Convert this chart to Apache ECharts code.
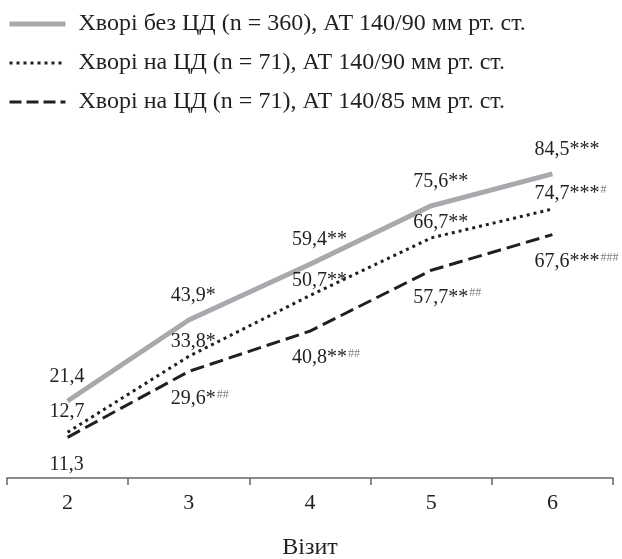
<!DOCTYPE html>
<html>
<head>
<meta charset="utf-8">
<script src="https://cdn.jsdelivr.net/npm/echarts@6/dist/echarts.min.js"></script>
<style>
html,body{margin:0;padding:0;background:#fff;}
#chart{width:622px;height:559px;}
</style>
</head>
<body>
<div id="chart"></div>
<script>
var categories = ['2', '3', '4', '5', '6'];
var seriesNames = [
  'Хворі без ЦД (n = 360), АТ 140/90 мм рт. ст.',
  'Хворі на ЦД (n = 71), АТ 140/90 мм рт. ст.',
  'Хворі на ЦД (n = 71), АТ 140/85 мм рт. ст.'
];
var values1 = [21.4, 43.9, 59.4, 75.6, 84.5];
var values2 = [12.7, 33.8, 50.7, 66.7, 74.7];
var values3 = [11.3, 29.6, 40.8, 57.7, 67.6];
var stars1 = ['', '*', '**', '**', '***'];
var stars2 = ['', '*', '**', '**', '***'];
var stars3 = ['', '*', '**', '**', '***'];
var hash1 = ['', '', '', '', ''];
var hash2 = ['', '', '', '', '#'];
var hash3 = ['', '##', '##', '##', '###'];
var xName = 'Візит';

var FONT = "'Liberation Serif', 'DejaVu Serif', serif";
var TXT = '#231f20';
var GRAY = '#a7a9ac';

function fmt(stars, hashes) {
  return function (p) {
    var s = p.value.toFixed(1).replace('.', ',') + stars[p.dataIndex];
    var h = hashes[p.dataIndex];
    return '{a|' + s + '}' + (h ? '{s|' + h + '}' : '');
  };
}
var rich = {
  a: {fontFamily: FONT, fontSize: 20, color: TXT, lineHeight: 20},
  s: {fontFamily: FONT, fontSize: 12, color: '#808080', lineHeight: 20, verticalAlign: 'top', padding: [0, 0, 0, 1]}
};
function lbl(pos, dist) {
  return {show: true, position: pos, distance: dist, align: 'left', offset: [-18, 0], rich: rich};
}
// first dotted-series label sits a bit higher in the original
var data2 = values2.map(function (v, i) {
  return i === 0 ? {value: v, label: {distance: 11}} : v;
});

var chart = echarts.init(document.getElementById('chart'));
chart.setOption({
  animation: false,
  backgroundColor: '#fff',
  legend: {
    orient: 'vertical',
    left: 2,
    top: 7,
    itemWidth: 56,
    itemHeight: 24,
    itemGap: 15,
    itemStyle: {color: 'rgba(0,0,0,0)', opacity: 0, borderWidth: 0},
    textStyle: {fontFamily: FONT, fontSize: 24, lineHeight: 24, color: TXT, padding: [0, 0, 0, 8]},
    data: [
      {name: seriesNames[0], lineStyle: {color: GRAY, width: 5, type: 'solid', cap: 'butt'}},
      {name: seriesNames[1], lineStyle: {color: TXT, width: 3, type: [3, 4]}},
      {name: seriesNames[2], lineStyle: {color: TXT, width: 3, type: [12, 5]}}
    ]
  },
  grid: {left: 7, right: 9, top: 118, bottom: 81, containLabel: false, outerBoundsMode: 'none'},
  xAxis: {
    type: 'category',
    data: categories,
    boundaryGap: true,
    axisLine: {lineStyle: {color: '#666', width: 1.5}},
    axisTick: {show: true, length: 7, lineStyle: {color: '#666', width: 1.5}},
    axisLabel: {fontFamily: FONT, fontSize: 22, color: TXT, margin: 14},
    name: xName,
    nameLocation: 'middle',
    nameGap: 58,
    nameTextStyle: {fontFamily: FONT, fontSize: 24, color: TXT}
  },
  yAxis: {type: 'value', min: 0, max: 100, show: false, splitLine: {show: false}},
  series: [
    {
      name: seriesNames[0], type: 'line', data: values1, symbol: 'circle', symbolSize: 0,
      lineStyle: {color: GRAY, width: 5, cap: 'butt'},
      itemStyle: {color: GRAY},
      label: Object.assign(lbl('top', 14), {formatter: fmt(stars1, hash1)})
    },
    {
      name: seriesNames[1], type: 'line', data: data2, symbol: 'circle', symbolSize: 0,
      lineStyle: {color: TXT, width: 3, type: [3, 4]},
      itemStyle: {color: TXT},
      label: Object.assign(lbl('top', 5), {formatter: fmt(stars2, hash2)})
    },
    {
      name: seriesNames[2], type: 'line', data: values3, symbol: 'circle', symbolSize: 0,
      lineStyle: {color: TXT, width: 3, type: [14, 6]},
      itemStyle: {color: TXT},
      label: Object.assign(lbl('bottom', 17), {formatter: fmt(stars3, hash3)})
    }
  ]
});
</script>
</body>
</html>
